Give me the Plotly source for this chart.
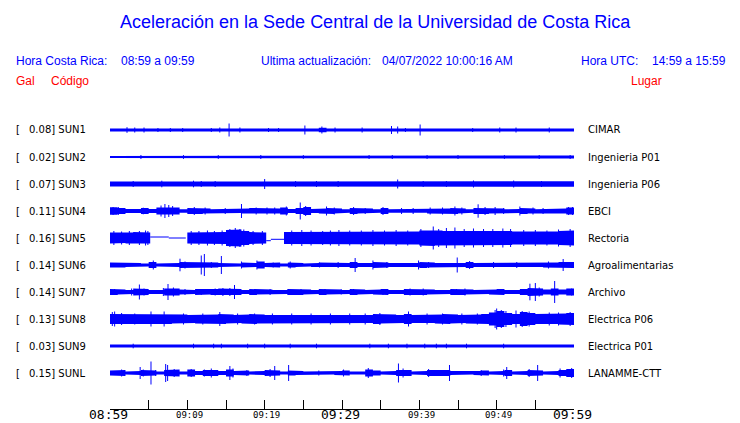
import plotly.graph_objects as go

# ---------------- data ----------------
stations = ["SUN1", "SUN2", "SUN3", "SUN4", "SUN5", "SUN6", "SUN7", "SUN8", "SUN9", "SUNL"]
peaks = ["0.08", "0.02", "0.07", "0.11", "0.16", "0.14", "0.14", "0.13", "0.03", "0.15"]
places = ["CIMAR", "Ingenieria P01", "Ingenieria P06", "EBCI", "Rectoria",
          "Agroalimentarias", "Archivo", "Electrica P06", "Electrica P01", "LANAMME-CTT"]

tick_minutes = [0, 5, 10, 15, 20, 25, 30, 35, 40, 45, 50, 55, 60]
tick_labels = ["08:59", "", "09:09", "", "09:19", "", "09:29", "", "09:39", "", "09:49", "", "09:59"]
major_ticks = ["08:59", "09:29", "09:59"]

# per-minute envelope (half amplitude, relative units)
env_sun1 = [1.5] * 15 + [2.2] + [1.5] * 11 + [2.3] + [1.5] * 8 + [2.2, 2.2] + [1.5] * 22
env_sun2 = [1.0, 1.2, 1.6, 1.6, 1.6, 1.0, 1.6, 1.6, 1.0, 1.6, 1.6, 1.0, 1.6, 1.6, 1.6, 1.6, 1.6, 1.6, 1.0, 1.6,
            1.0, 1.6, 1.0, 1.0, 1.6, 1.6, 1.6, 1.6, 1.6, 1.0, 1.0, 1.0, 1.0, 1.2, 1.6, 1.0, 1.6, 1.6, 1.6, 1.6,
            1.6, 1.6, 1.2, 1.6, 1.6, 1.6, 1.2, 1.6, 1.6, 1.6, 1.6, 1.2, 1.6, 1.6, 1.6, 1.6, 1.6, 1.6, 1.6, 1.6]
env_sun3 = [2.5, 2.3, 2.3, 2.5, 2.3, 2.3, 2.5, 2.3, 2.3, 2.3, 2.5, 2.5, 2.3, 2.3, 2.3, 2.3, 2.3, 2.3, 2.3, 2.5,
            2.5, 2.3, 2.3, 2.3, 2.5, 2.3, 2.5, 2.3, 2.3, 2.5, 2.3, 2.3, 2.3, 2.3, 2.3, 2.3, 3.0, 3.0, 2.5, 2.5,
            2.5, 2.5, 2.5, 2.5, 2.5, 2.5, 2.5, 2.8, 2.5, 2.5, 2.5, 2.5, 2.8, 2.5, 2.5, 2.8, 2.7, 2.7, 2.7, 2.7]
env_sun4 = [3.8, 3, 2, 2, 3, 2, 3.5, 4, 3.5, 1.8, 3, 3, 2.5, 1.8, 2.5, 1.8, 2, 2.5, 3, 3,
            3, 2.5, 3.5, 2, 3, 4, 2, 2.5, 3, 2.5, 1.8, 3, 2.5, 2.5, 1.8, 3, 1.8, 2.5, 2.5, 2.5,
            1.8, 2.5, 2.5, 2.5, 3, 2.5, 1.8, 3, 3, 2.5, 2.5, 1.8, 2, 3, 2.5, 1.8, 2.5, 1.8, 2.5, 3.5]
env_sun5 = [5.5, 5, 5.5, 6, 6, 5.5, 0, 0, 0, 0, 5.5, 5.5, 6, 5.5, 6, 8, 8.5, 7, 6, 5.5,
            5.5, 0, 6, 6, 6.5, 6, 6, 6, 6, 6.5, 6, 6, 6, 6.5, 6, 6, 6.5, 6, 6, 6.5,
            7.5, 8, 7.5, 7, 7.5, 7.5, 7, 7.5, 7, 7, 7.5, 7, 6.5, 6, 6.5, 6.5, 6, 6.5, 7, 7.5]
env_sun6 = [2.5, 2.5, 2, 2, 1.5, 3, 1.5, 1.5, 2, 3, 2.5, 2.5, 3, 2.5, 2, 1.5, 1.5, 2.5, 2, 3.5,
            2, 2.5, 1.5, 2.5, 2, 1.5, 2, 2.5, 2, 2.5, 2, 3, 2, 2, 3, 2.5, 2, 1.5, 2, 2,
            3, 2.5, 2, 2, 2.5, 2, 3, 2, 2, 2.5, 2, 2, 2.5, 2, 2, 2, 2.5, 2.5, 3, 3]
env_sun7 = [3, 2.5, 2, 3.5, 3, 2, 2, 3.5, 3.5, 2.5, 2, 3, 2.5, 3, 3.5, 3.5, 3, 2, 3, 2.5,
            2.5, 2, 2, 3, 3, 2.5, 2, 3, 2.5, 2.5, 2, 3, 2.5, 2, 2.5, 3, 2, 2, 3, 2.5,
            3, 2.5, 2, 2, 3, 3, 2.5, 2, 2, 2.5, 3, 2, 2, 3, 4, 3.5, 2.5, 3.5, 2.5, 3.5]
env_sun8 = [5, 5, 4.5, 5, 4.5, 5, 4.5, 5, 4.5, 4.5, 4, 4.5, 4.5, 4.5, 5, 4.5, 4, 4.5, 5, 4.5,
            4, 4.5, 4, 4.5, 4.5, 4, 4.5, 4.5, 4, 4.5, 4, 4, 4.5, 4, 5, 4.5, 4.5, 4, 5, 4,
            4.5, 4, 4.5, 5, 4.5, 4, 4.5, 4.5, 5, 6.5, 8, 6, 5, 7, 6, 5, 5, 5, 5.5, 6]
env_sun9 = [1.5] * 60
env_sunl = [2.5, 3, 1.5, 2, 3, 2.5, 1.5, 3, 3.5, 1.5, 3.5, 2, 3, 3, 2, 3.5, 2, 2.5, 1.5, 2,
            3, 2.5, 1.5, 2.5, 2, 1.5, 2, 2, 1.5, 2, 2.5, 1.5, 1.5, 3.5, 2.5, 1.5, 2, 3, 3, 1.5,
            2, 3, 2.5, 3, 2, 1.5, 1.5, 2, 2.5, 1.5, 2, 3, 1.5, 2, 3, 2.5, 1.5, 2, 3, 4]
envelopes = [env_sun1, env_sun2, env_sun3, env_sun4, env_sun5, env_sun6, env_sun7, env_sun8, env_sun9, env_sunl]

# spikes: (minute, half amplitude)
spk_sun1 = [(2.2, 2.8), (3.2, 2.5), (4.4, 2.5), (6.2, 2), (7.8, 2), (9.4, 2), (13.1, 2), (14.2, 2.5), (15.4, 6.5),
            (16.8, 2.5), (20.5, 2), (21.8, 2), (25.2, 4.5), (27.4, 3.5), (29.1, 2.5), (32.6, 2.5), (36.4, 4),
            (37.2, 3.5), (38.2, 2), (40.1, 5.5), (46.9, 2), (50.4, 2.5), (52.5, 2.5), (56.8, 2.5)]
spk_sun2 = [(4.0, 2.0), (9.5, 1.9), (14.0, 1.9), (19.5, 2.0), (25.0, 1.9), (33.5, 2.0), (36.5, 2.0), (41.0, 1.9),
            (45.0, 2.0), (51.0, 1.9), (55.5, 2.0), (59.5, 2.0)]
spk_sun3 = [(3, 3), (6.7, 3.3), (10.8, 3.3), (11.8, 3), (13.6, 3), (20.0, 5), (24, 3), (26.7, 3), (29.5, 3),
            (37.2, 4.5), (40.5, 3), (43.5, 3), (47, 3.5), (52.2, 3.5), (55.8, 3)]
spk_sun4 = [(0.4, 4), (1.1, 3.8), (4.3, 3.3), (6.6, 5.5), (7.1, 7), (7.6, 6), (8.1, 5), (10.9, 4), (12.3, 3.5),
            (14.9, 3), (17, 7), (18.9, 3.5), (20.3, 3.5), (21.3, 3.5), (22.8, 4.5), (24.6, 8.5), (25.3, 5),
            (28, 4.5), (29, 3.5), (31.5, 4), (33, 3), (35.3, 4), (37.7, 3), (39.2, 3), (41.4, 3.5), (43, 3.5),
            (44.6, 4.5), (45.5, 3.5), (47.6, 6.7), (48.5, 4), (49.8, 4), (50.9, 3), (53, 4.5), (54.7, 3.5),
            (56, 3), (59.3, 4), (59.8, 4)]
spk_sun5 = [(0.5, 7), (1.5, 6.5), (2.5, 7), (3.8, 7), (4.6, 7.5), (4.9, 7), (10.5, 7), (11.5, 7), (12.6, 7.5),
            (13.5, 7), (14.5, 7.5), (15.5, 9), (16.2, 10), (16.8, 9), (17.3, 8.5), (18.5, 7), (19.7, 7),
            (23.5, 7.5), (24.8, 8), (26, 7.5), (27.5, 7), (28.5, 7.5), (29.6, 8), (31, 7.5), (32.5, 7.5),
            (34, 8), (35.5, 7.5), (37, 8), (38.5, 7.5), (40.2, 9), (41.8, 11.5), (42.5, 9), (43.5, 10),
            (44.6, 10.5), (45.8, 9), (47, 9.5), (48.3, 9), (49.5, 9), (50.8, 9.5), (51.8, 9), (53.5, 8),
            (55, 8), (56.5, 7.5), (58, 8.5), (59.5, 9)]
spk_sun6 = [(5.6, 4.5), (9.05, 6.3), (9.7, 3.5), (11.8, 9.5), (12.2, 11), (13.1, 3), (14.4, 9), (17, 3.5),
            (19, 4.5), (21.1, 2.5), (23.3, 3.5), (27.1, 2.5), (29.5, 3), (31.7, 7), (34, 4.5), (35.8, 3),
            (39.9, 4.5), (41.2, 3), (44.9, 7.5), (46.5, 4), (49.6, 3), (52.6, 3), (56.7, 3.5), (58.6, 6),
            (59.7, 3)]
spk_sun7 = [(0.6, 3), (2.8, 3.5), (3.8, 7.5), (4.4, 3.5), (6.9, 4), (7.5, 8), (8.2, 4.5), (9.7, 3), (11.8, 3),
            (13.6, 3.5), (14.6, 4), (15.5, 4), (16.1, 7), (18.7, 3), (20.7, 3), (23, 3), (24.7, 3), (27.8, 3),
            (29.9, 2.5), (31.5, 3), (35.3, 3), (38.8, 3.5), (40.5, 3.5), (44.8, 3), (45.9, 3.5), (50.9, 3),
            (54.3, 8.3), (55, 9), (55.5, 4.5), (57.5, 11), (59.7, 3.5)]
spk_sun8 = [(0.3, 7), (0.6, 7.5), (1.5, 6), (3.2, 5.5), (5.3, 7.5), (7, 7.5), (9.5, 5.5), (12, 5.5), (14.2, 7),
            (16.5, 5.5), (18.7, 5.5), (21, 5.5), (23.5, 5.5), (26, 5.5), (28.5, 5.5), (31, 5.5), (33, 5.5),
            (34.9, 6), (38.6, 7.5), (41, 5.5), (43, 5.5), (45.5, 5.5), (47.5, 5.5), (49.8, 9), (50, 10.5),
            (50.6, 9), (51.2, 8), (52.5, 8.5), (53.3, 8), (54.2, 7.5), (56.8, 6.5), (58, 6.5), (59.5, 7)]
spk_sun9 = [(3, 2.3), (10.8, 2.3), (13.4, 2.3), (14.4, 2.3), (17.8, 2.3), (20, 2.3), (23.3, 2.3), (26.7, 2.3),
            (33.6, 2.3), (36, 2.3), (38.4, 2.3), (40.7, 2.3), (42.2, 2.3), (43.5, 2.3), (46.1, 2.3), (50.9, 2.3)]
spk_sunl = [(1.5, 3.5), (3.9, 6), (4.3, 3.5), (5.3, 11.5), (5.9, 3), (7.2, 9), (7.45, 8), (8.3, 4), (10.5, 4),
            (12.2, 3.5), (13.1, 4.5), (15.5, 7), (15.9, 4.5), (17.7, 3), (20.7, 4), (21.3, 7), (23.1, 8),
            (27, 2.5), (30.2, 3.5), (33.4, 5), (37.3, 9.5), (37.9, 4.5), (41.2, 4), (42.2, 3), (43.9, 8),
            (48, 3), (50.9, 3.5), (51.3, 6), (54.2, 4), (55.3, 8), (58.2, 4.5), (59.7, 5)]
spikes = [spk_sun1, spk_sun2, spk_sun3, spk_sun4, spk_sun5, spk_sun6, spk_sun7, spk_sun8, spk_sun9, spk_sunl]

# flat (no data) stretches on SUN5: (start, end, level)
gaps_sun5 = [(5.2, 7.6, 1.0), (7.6, 9.8, 0.0), (20.2, 20.8, -2.7), (20.8, 22.5, -1.3)]
gaps = [[], [], [], [], gaps_sun5, [], [], [], [], []]

# ---------------- figure ----------------
BLUE = "#0000ff"
ROW = 27
fig = go.Figure()

for i, name in enumerate(stations):
    c = -i * ROW
    env = envelopes[i]
    g = gaps[i]
    breaks = sorted(set(list(range(61)) + [b for s, e, _ in g for b in (s, e)]))
    xs_up, ys_up = [], []
    for a, b in zip(breaks[:-1], breaks[1:]):
        mid = 0.5 * (a + b)
        amp = 0 if any(s <= mid < e for s, e, _ in g) else env[min(int(mid), 59)]
        xs_up += [a, b]
        ys_up += [c + amp, c + amp]
    xs = xs_up + xs_up[::-1]
    ys = ys_up + [2 * c - y for y in ys_up[::-1]]
    fig.add_trace(go.Scatter(x=xs, y=ys, mode="lines", fill="toself", fillcolor=BLUE,
                             line=dict(width=0, color=BLUE), hoverinfo="skip"))
    for s, e, lvl in g:
        fig.add_trace(go.Scatter(x=[s, e], y=[c + lvl, c + lvl], mode="lines",
                                 line=dict(width=1, color=BLUE), hoverinfo="skip"))
    sx, sy = [], []
    for t, a in spikes[i]:
        sx += [t, t, None]
        sy += [c + a, c - a, None]
    fig.add_trace(go.Scatter(x=sx, y=sy, mode="lines", line=dict(width=1, color=BLUE),
                             hoverinfo="skip"))

# page body has an 8px margin: work in screen pixels and shift
OFF = 8
SW, SH = 740, 423
W, H = SW - OFF, SH - OFF
L, R, T, B = 110, 574, 110, 409  # plot area in screen pixels


def px(x):
    return (x - L) / (R - L)


def py(y):
    return (B - y) / (B - T)


annotations = []


def txt(x, y, s, color, size, family="Liberation Sans, Arial, sans-serif", anchor="left", xref="paper",
        xshift=0):
    annotations.append(dict(x=x if xref == "x" else px(x), y=py(y), xref=xref, yref="paper", text=s,
                            showarrow=False, xanchor=anchor, yanchor="middle", borderpad=0, xshift=xshift,
                            font=dict(color=color, size=size, family=family)))


txt(375.5, 22, "Aceleración en la Sede Central de la Universidad de Costa Rica", BLUE, 18, anchor="center")
txt(15, 61, "Hora Costa Rica:", BLUE, 12)
txt(120, 61, "08:59 a 09:59", BLUE, 12)
txt(260, 61, "Ultima actualización:", BLUE, 12)
txt(381, 61, "04/07/2022 10:00:16 AM", BLUE, 12)
txt(580, 61, "Hora UTC:", BLUE, 12)
txt(651, 61, "14:59 a 15:59", BLUE, 12)
txt(15, 81, "Gal", "#ff0000", 12)
txt(50, 81, "Código", "#ff0000", 12)
txt(630, 81, "Lugar", "#ff0000", 12)

for i, name in enumerate(stations):
    yc = 130 + i * ROW
    txt(15, yc, "[", "black", 10, family="DejaVu Sans")
    txt(28, yc, "%s] %s" % (peaks[i], name), "black", 10, family="DejaVu Sans")
    txt(587, yc, places[i], "black", 10, family="DejaVu Sans")

# time-axis labels (two sizes), placed at the axis tick values
for m, lab in zip(tick_minutes, tick_labels):
    if not lab:
        continue
    if lab in major_ticks:
        txt(m, 414.5, lab, "black", 13, family="DejaVu Sans Mono", anchor="center", xref="x", xshift=-1.5)
    else:
        txt(m, 414.5, lab, "black", 9, family="DejaVu Sans Mono", anchor="center", xref="x", xshift=2)

fig.update_layout(
    width=W, height=H,
    margin=dict(l=L - OFF, r=W - (R - OFF), t=T - OFF, b=H - (B - OFF), pad=0),
    paper_bgcolor="white", plot_bgcolor="white",
    showlegend=False,
    annotations=annotations,
    xaxis=dict(range=[0, 60], tickvals=tick_minutes, showticklabels=False, ticks="inside", ticklen=9,
               tickcolor="black", tickwidth=1, showline=True, linecolor="black", linewidth=1,
               showgrid=False, zeroline=False, fixedrange=True, automargin=False),
    yaxis=dict(range=[-(B - 130), 130 - T], visible=False, fixedrange=True, showgrid=False,
               zeroline=False),
)

fig.write_html("out.html")
